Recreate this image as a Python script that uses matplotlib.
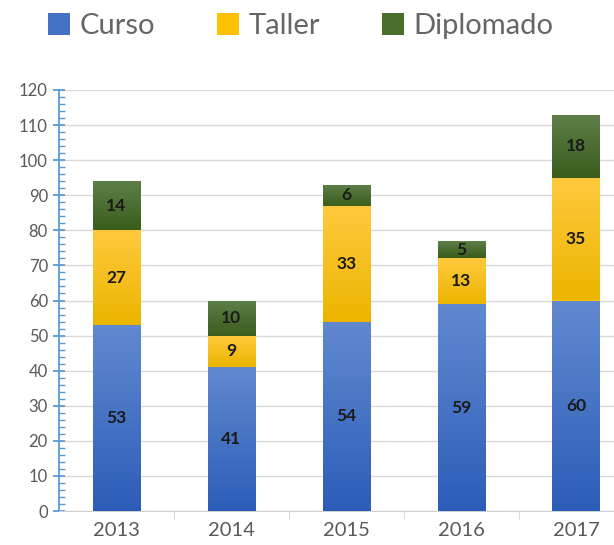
import numpy as np
import matplotlib.pyplot as plt
from matplotlib.colors import LinearSegmentedColormap
from matplotlib.patches import Patch
from matplotlib.ticker import MultipleLocator

# ─── datos ────────────────────────────────────────────────────────────────────

years     = ["2013", "2014", "2015", "2016", "2017"]
curso     = [53, 41, 54, 59, 60]
taller    = [27, 9, 33, 13, 35]
diplomado = [14, 10, 6, 5, 18]

series_names = ["Curso", "Taller", "Diplomado"]
# (arriba, abajo) del degradado
grad_colors = [("#6189d0", "#2d5db8"), ("#ffc93e", "#ecb500"), ("#5e7f48", "#3a5d1c")]
flat_colors = ["#4472c4", "#ffc000", "#4a6f2c"]

plt.rcParams["font.family"] = ["Lato", "DejaVu Sans"]

fig = plt.figure(figsize=(6.14, 5.45), dpi=100)
ax = fig.add_axes([59 / 614, 34 / 545, (614 - 59) / 614, (511 - 90) / 545])

x = np.arange(len(years))
width = 0.41
bottoms = np.zeros(len(years))

for vals, (top_c, bot_c), flat, name in zip([curso, taller, diplomado],
                                            grad_colors, flat_colors, series_names):
    bars = ax.bar(x, vals, width, bottom=bottoms, color=flat, zorder=3,
                  edgecolor="none")
    cmap = LinearSegmentedColormap.from_list(name, [bot_c, top_c])
    grad = np.linspace(1, 0, 64).reshape(-1, 1)
    for b, v in zip(bars, vals):
        x0, y0 = b.get_x(), b.get_y()
        im = ax.imshow(grad, extent=[x0, x0 + b.get_width(), y0, y0 + v],
                       aspect="auto", cmap=cmap, zorder=3.5, interpolation="bilinear")
        im.set_clip_path(b)
        ax.text(x0 + b.get_width() / 2, y0 + v / 2, str(v), ha="center",
                va="center", fontsize=12.5, fontweight="bold", color="#1a1a1a",
                zorder=5)
    bottoms += np.array(vals)

# ─── ejes ─────────────────────────────────────────────────────────────────────

ax.set_xlim(-0.5, 4 + (614 - 576) / 115)
ax.set_ylim(0, 120)
ax.yaxis.set_major_locator(MultipleLocator(10))
ax.yaxis.set_minor_locator(MultipleLocator(2))
ax.grid(axis="y", color="#d9d9d9", lw=1, zorder=0)
ax.set_axisbelow(True)

for s in ["top", "right"]:
    ax.spines[s].set_visible(False)
ax.spines["left"].set_color("#5b9bd5")
ax.spines["left"].set_linewidth(1.3)
ax.spines["bottom"].set_color("#d0d0d0")

ax.tick_params(axis="y", which="major", direction="inout", length=8, width=1.3,
               color="#5b9bd5", labelsize=12, labelcolor="#595959", pad=4)
ax.tick_params(axis="y", which="minor", direction="in", length=4, width=1,
               color="#5b9bd5")

ax.set_xticks(x)
ax.set_xticklabels(years)
ax.tick_params(axis="x", which="major", length=0, labelsize=14.5,
               labelcolor="#595959", pad=8)
ax.set_xticks(x[:-1] + 0.5, minor=True)
ax.tick_params(axis="x", which="minor", direction="out", length=6,
               color="#d0d0d0")

handles = [Patch(facecolor=c, edgecolor="none") for c in flat_colors]
fig.legend(handles, series_names, loc="center", bbox_to_anchor=(0.49, 1 - 26 / 545),
           ncol=3, frameon=False, fontsize=21, labelcolor="#666666",
           handlelength=0.75, handleheight=0.75, handletextpad=0.35,
           columnspacing=2.1)

fig.savefig("out.png", dpi=100)
